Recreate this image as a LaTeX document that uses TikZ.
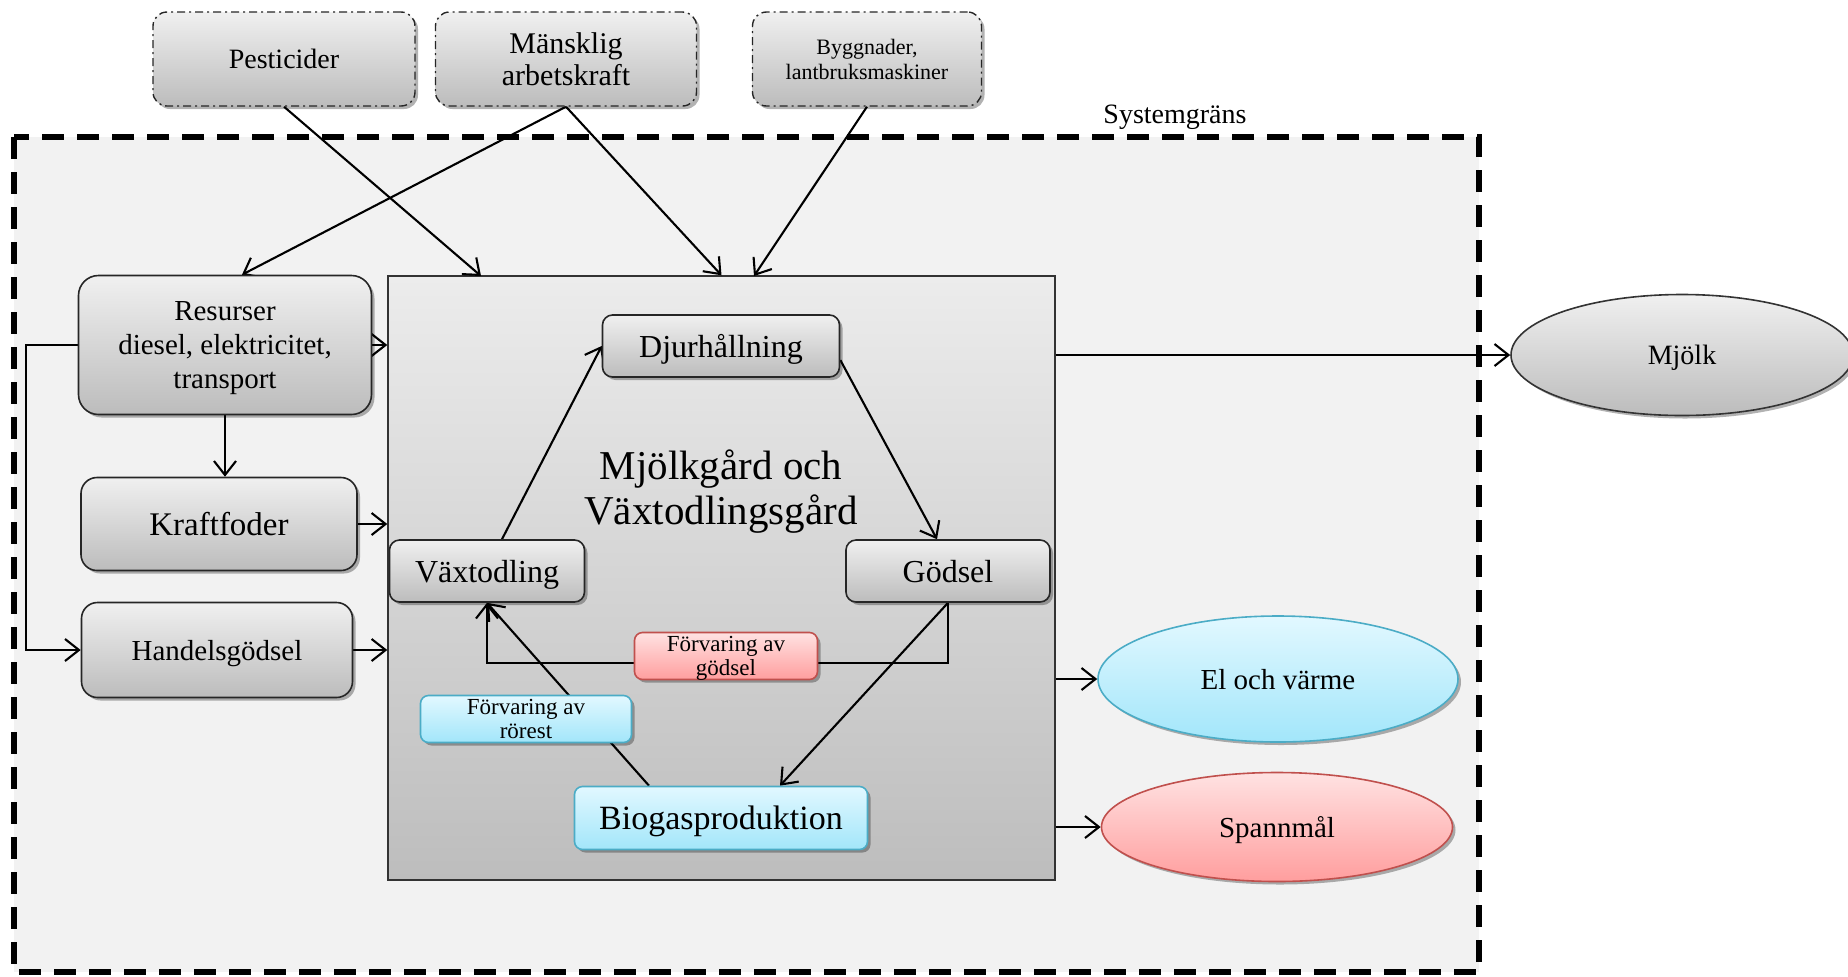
\documentclass[tikz,border=0pt]{standalone}
\usepackage{fontspec}
\setmainfont{Liberation Serif}
\usetikzlibrary{arrows.meta,shapes.geometric,shadows,calc}
\pgfdeclarelayer{bg}\pgfdeclarelayer{mid}\pgfsetlayers{bg,mid,main}
\newcommand{\fsz}[2]{\fontsize{#1}{#2}\selectfont}
\definecolor{outerfill}{HTML}{F2F2F2}
\definecolor{gtop}{HTML}{F0F0F0}
\definecolor{gbot}{HTML}{BCBCBC}
\definecolor{ftop}{HTML}{ECECEC}
\definecolor{fbot}{HTML}{BDBDBD}
\definecolor{btop}{HTML}{E2F8FF}
\definecolor{bbot}{HTML}{A2E6FA}
\definecolor{bdraw}{HTML}{4BACC6}
\definecolor{rtop}{HTML}{FFE2E2}
\definecolor{rbot}{HTML}{FF9E9E}
\definecolor{rdraw}{HTML}{C0504D}
\begin{document}
\begin{tikzpicture}[x=0.5pt,y=-0.5pt,
 arr/.style={draw=black,line width=1.05pt,-{Straight Barb[length=7pt,width=11pt,line width=1.05pt]}},
 shad/.style={drop shadow={shadow xshift=1.5pt,shadow yshift=-1.5pt,opacity=0.3,fill=black}},
 graybox/.style={draw=black!85,line width=0.8pt,rounded corners=5pt,top color=gtop,bottom color=gbot,shad,align=center,inner sep=2pt,text depth=0pt},
 inbox/.style={graybox,text depth=,dash pattern=on 4pt off 2pt on 1pt off 2pt,line width=0.7pt,rounded corners=7pt},
 bluebox/.style={draw=bdraw,line width=0.8pt,rounded corners=4pt,top color=btop,bottom color=bbot,shad,align=center,inner sep=1pt,text depth=0pt},
 redbox/.style={draw=rdraw,line width=0.8pt,rounded corners=4pt,top color=rtop,bottom color=rbot,shad,align=center,inner sep=1pt,text depth=0pt},
 ell/.style={ellipse,line width=0.8pt,shad,inner sep=0pt,text depth=0pt}
]
\useasboundingbox (0,0) rectangle (1848,976);

% system boundary
\begin{pgfonlayer}{bg}
\fill[outerfill] (14,137) rectangle (1479,972);
\draw[line width=2.6pt,dash pattern=on 11pt off 6.5pt] (14,137) rectangle (1479,972);
\node[draw=black!80,line width=0.7pt,top color=ftop,bottom color=fbot,minimum width=333.5pt,minimum height=302pt,inner sep=0pt] (farm) at (721.5,578) {};
\end{pgfonlayer}

\node[font=\fsz{14}{16}] (sys) at (1175,117) {Systemgräns};

% inputs
\node[inbox,minimum width=131pt,minimum height=47pt,font=\fsz{14}{16}] (pest) at (284,59) {Pesticider};
\node[inbox,minimum width=130.5pt,minimum height=47pt,font=\fsz{15}{16}] (mans) at (566,59) {Mänsklig\\arbetskraft};
\node[inbox,minimum width=114.5pt,minimum height=47pt,font=\fsz{11}{12.5}] (bygg) at (867,59) {Byggnader,\\lantbruksmaskiner};

% left boxes
\node[graybox,rounded corners=10pt,minimum width=146.5pt,minimum height=69.5pt,font=\fsz{14.5}{16.8}] (res) at (225,345) {Resurser\\diesel, elektricitet,\\transport};
\node[graybox,rounded corners=8pt,minimum width=138pt,minimum height=46.5pt,font=\fsz{16.5}{18}] (kraft) at (219,524) {Kraftfoder};
\node[graybox,rounded corners=8pt,minimum width=135.5pt,minimum height=47.5pt,font=\fsz{14.5}{16}] (handel) at (217,650) {Handelsgödsel};

% farm content
\node[align=center,font=\fsz{20.5}{22.5}] (title) at (721,492) {Mjölkgård och\\Växtodlingsgård};
\node[graybox,minimum width=118.5pt,minimum height=31pt,font=\fsz{16}{18}] (djur) at (721,346) {Djurhållning};
\node[graybox,minimum width=97.5pt,minimum height=31pt,font=\fsz{16}{18}] (vaxt) at (487,571) {Växtodling};
\node[graybox,minimum width=102pt,minimum height=31pt,font=\fsz{16}{18}] (godsel) at (948,571) {Gödsel};
\node[bluebox,minimum width=146.5pt,minimum height=31.5pt,font=\fsz{17}{19}] (bio) at (721,818) {Biogasproduktion};
\node[redbox,minimum width=91.5pt,minimum height=23.5pt,font=\fsz{11.5}{12.3}] (fg) at (726,656) {Förvaring av\\gödsel};
\node[bluebox,minimum width=105.5pt,minimum height=23.5pt,font=\fsz{11.5}{12.3}] (fr) at (526,719) {Förvaring av\\rörest};

% outputs
\node[ell,draw=black!80,top color=gtop,bottom color=gbot,minimum width=171pt,minimum height=60.5pt,font=\fsz{14}{16}] (mjolk) at (1682,355) {Mjölk};
\node[ell,draw=bdraw,top color=btop,bottom color=bbot,minimum width=180pt,minimum height=63pt,font=\fsz{14.5}{16}] (el) at (1278,679) {El och värme};
\node[ell,draw=rdraw,top color=rtop,bottom color=rbot,minimum width=175.5pt,minimum height=54.5pt,font=\fsz{14.5}{16}] (spann) at (1277,827) {Spannmål};

\coordinate (fa) at (481,276);
\coordinate (fb) at (754,276);

\begin{pgfonlayer}{mid}
% inputs
\draw[arr] (pest.south) -- (fa);
\draw[arr] (mans.south) -- ([xshift=8.5pt]res.north);
\draw[arr] (mans.south) -- (farm.north);
\draw[arr] (bygg.south) -- (fb);
% left
\draw[arr] (res.east) -- (res.east -| farm.west);
\draw[arr] (res.south) -- (res.south |- kraft.north);
\draw[arr] (kraft.east) -- (kraft.east -| farm.west);
\draw[arr] (handel.east) -- (handel.east -| farm.west);
\draw[arr] (res.west) -- ++(-52,0) |- (handel.west);
% cycle
\draw[arr] ([xshift=7.5pt]vaxt.north) -- (djur.west);
\draw[arr] ([yshift=-7pt]djur.east) -- ([xshift=-5.5pt]godsel.north);
\draw[arr] (godsel.south) -- ([xshift=29.5pt]bio.north);
\draw[arr] (godsel.south) -- ([yshift=-3.5pt]godsel.south |- fg.center) -- ([yshift=-3.5pt]vaxt.south |- fg.center) -- (vaxt.south);
\draw[arr] ([xshift=-36pt]bio.north) -- (vaxt.south);
% outputs
\draw[arr] (farm.east |- mjolk.west) -- (mjolk.west);
\draw[arr] (farm.east |- el.west) -- (el.west);
\draw[arr] (farm.east |- spann.west) -- (spann.west);
\end{pgfonlayer}
\end{tikzpicture}
\end{document}
